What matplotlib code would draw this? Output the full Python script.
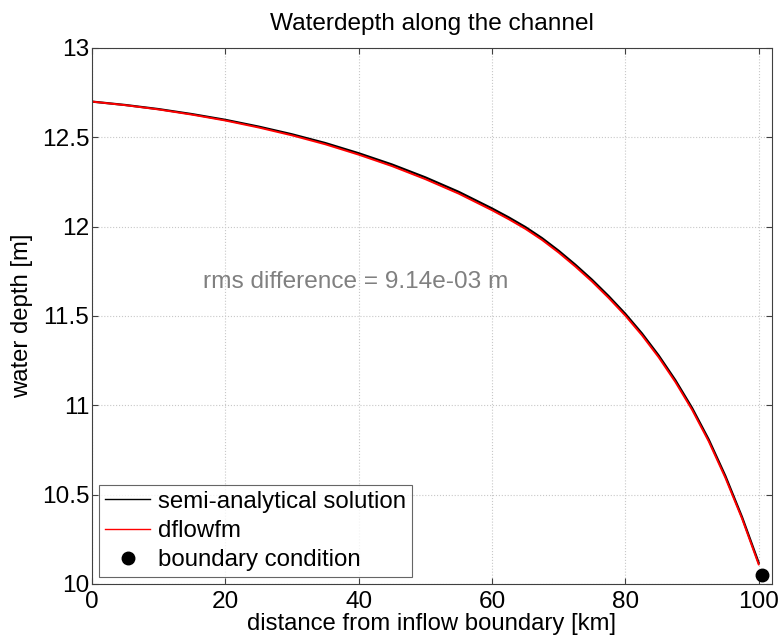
import matplotlib
matplotlib.use("Agg")
import matplotlib.pyplot as plt

plt.rcParams['font.family'] = ['Liberation Sans', 'DejaVu Sans']

# distance from inflow boundary [km]
dist = [0, 5, 10, 15, 20, 25, 30, 35, 40, 45, 50, 55, 60, 62.5, 65, 67.5,
        70, 72.5, 75, 77.5, 80, 82.5, 85, 87.5, 90, 92.5, 95, 97.5, 100]
# semi-analytical water depth [m]
depth_ana = [12.700, 12.681, 12.658, 12.630, 12.598, 12.560, 12.517, 12.468,
             12.411, 12.348, 12.276, 12.195, 12.102, 12.052, 11.998, 11.936,
             11.865, 11.787, 11.703, 11.611, 11.512, 11.402, 11.279, 11.141,
             10.986, 10.809, 10.605, 10.375, 10.119]
# dflowfm water depth [m]
depth_fm = [12.700, 12.680, 12.656, 12.627, 12.594, 12.555, 12.511, 12.461,
            12.403, 12.339, 12.266, 12.185, 12.092, 12.042, 11.988, 11.926,
            11.855, 11.777, 11.693, 11.601, 11.502, 11.392, 11.269, 11.131,
            10.976, 10.799, 10.595, 10.367, 10.110]
# boundary condition
bc_x = [100.45]
bc_y = [10.05]

fs = 17.6

fig = plt.figure(figsize=(7.79, 6.44), dpi=100)
ax = fig.add_axes([92/779, 1-584/644, (772-92)/779, (584-48)/644])

ax.plot(dist, depth_ana, color='black', lw=1.6, label='semi-analytical solution')
ax.plot(dist, depth_fm, color='red', lw=1.4, label='dflowfm')
ax.plot(bc_x, bc_y, 'o', color='black', ms=9, label='boundary condition')

ax.set_xlim(0, 102)
ax.set_ylim(10, 13)
ax.set_xticks([0, 20, 40, 60, 80, 100])
ax.set_yticks([10, 10.5, 11, 11.5, 12, 12.5, 13])
ax.set_yticklabels(['10', '10.5', '11', '11.5', '12', '12.5', '13'])
ax.grid(True, color='#c8c8c8', linestyle=':', linewidth=0.8)
ax.tick_params(direction='in', top=True, right=True, length=4,
               labelsize=fs, color='#404040', pad=2)
ax.tick_params(axis='x', pad=5)
for s in ax.spines.values():
    s.set_color('#404040')
    s.set_linewidth(0.8)

ax.set_title('Waterdepth along the channel', fontsize=fs, pad=13)
ax.set_xlabel('distance from inflow boundary [km]', fontsize=17.2, labelpad=0)
ax.set_ylabel('water depth [m]', fontsize=17.2, labelpad=6)

ax.text(16.6, 11.69, 'rms difference = 9.14e-03 m', color='#808080',
        fontsize=fs, ha='left', va='center')

leg = ax.legend(loc='lower left', fontsize=17.3, frameon=True, fancybox=False,
                borderaxespad=0.28, handlelength=1.9, handletextpad=0.3,
                borderpad=0.25, labelspacing=0.3)
leg.get_frame().set_edgecolor('#404040')
leg.get_frame().set_linewidth(0.8)
for line in leg.get_lines():
    line.set_linewidth(1.0)

fig.savefig('out.png', dpi=100)
